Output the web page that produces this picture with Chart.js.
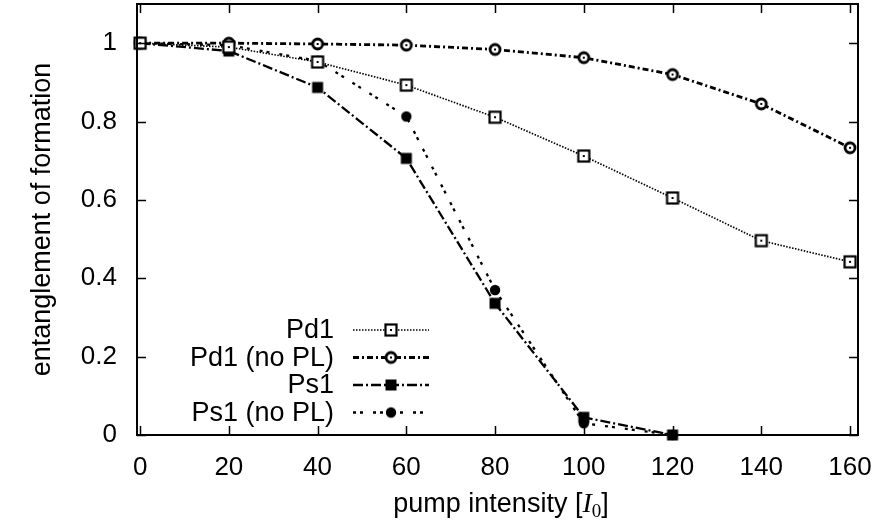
<!DOCTYPE html>
<html><head><meta charset="utf-8">
<script src="https://cdn.jsdelivr.net/npm/chart.js@4.4.1/dist/chart.umd.min.js"></script>
<style>html,body{margin:0;padding:0;background:#fff}#wrap{width:880px;height:525px;position:relative}</style>
</head><body><div id="wrap"><canvas id="c"></canvas></div>
<script>
// ---- data ----
const intensity = [0, 20, 40, 60, 80, 100, 120, 140, 160];
const pd1 = [1.0, 0.99, 0.952, 0.893, 0.811, 0.712, 0.605, 0.496, 0.442];
const pd1NoPL = [1.0, 1.0, 0.998, 0.995, 0.984, 0.963, 0.920, 0.845, 0.733];
const psIntensity = [0, 20, 40, 60, 80, 100, 120];
const ps1 = [1.0, 0.98, 0.887, 0.706, 0.336, 0.045, 0.0];
const ps1NoPL = [1.0, 0.995, 0.955, 0.813, 0.370, 0.030, 0.0];
const seriesNames = ['Pd1', 'Pd1 (no PL)', 'Ps1', 'Ps1 (no PL)'];
const xTicks = [0, 20, 40, 60, 80, 100, 120, 140, 160];
const yTicks = [0, 0.2, 0.4, 0.6, 0.8, 1];
const yTickLabels = ['0', '0.2', '0.4', '0.6', '0.8', '1'];

const FONT = '"Liberation Sans", Arial, Helvetica, sans-serif';
const TFONT = '"Liberation Sans Narrow", "Arial Narrow", "Liberation Sans", sans-serif';
const TFS = 26;   // tick font
const FS = 27;    // titles / legend font

function marker(kind) {
  const c = document.createElement('canvas');
  c.width = 16; c.height = 16;
  const g = c.getContext('2d');
  g.fillStyle = '#000'; g.strokeStyle = '#000';
  if (kind === 'openSquare') {
    g.fillStyle = '#fff'; g.fillRect(2.5, 2.5, 11, 11);
    g.lineWidth = 2.2; g.strokeRect(2.5, 2.5, 11, 11);
    g.fillStyle = '#000'; g.fillRect(7, 7, 2, 2);
  } else if (kind === 'openCircle') {
    g.fillStyle = '#fff'; g.beginPath(); g.arc(8, 8, 5.5, 0, Math.PI * 2); g.fill();
    g.lineWidth = 2.8; g.beginPath(); g.arc(8, 8, 5, 0, Math.PI * 2); g.stroke();
    g.fillStyle = '#000'; g.fillRect(7, 7, 2, 2);
  } else if (kind === 'filledSquare') {
    g.fillRect(2.5, 2.5, 11, 11);
  } else {
    g.beginPath(); g.arc(8, 8, 5.2, 0, Math.PI * 2); g.fill();
  }
  return c;
}

const styles = [
  { dash: [1.5, 1.5], width: 1.7, pt: marker('openSquare') },
  { dash: [6, 3, 2, 3], width: 2.8, pt: marker('openCircle') },
  { dash: [10, 3, 2, 3], width: 2.3, pt: marker('filledSquare') },
  { dash: [3, 4, 3, 10], width: 2.3, pt: marker('filledCircle') }
];

function pts(xs, ys) { return xs.map((x, i) => ({ x: x, y: ys[i] })); }
const seriesData = [pts(intensity, pd1), pts(intensity, pd1NoPL), pts(psIntensity, ps1), pts(psIntensity, ps1NoPL)];

const datasets = seriesData.map((d, i) => ({
  label: seriesNames[i],
  data: d,
  borderColor: '#000',
  backgroundColor: '#000',
  borderWidth: styles[i].width,
  borderDash: styles[i].dash,
  pointStyle: styles[i].pt,
  pointRadius: 5,
  tension: 0,
  fill: false,
  clip: false
}));

const framePlugin = {
  id: 'frame',
  afterDatasetsDraw(chart) {
    const ctx = chart.ctx, a = chart.chartArea;
    const xs = chart.scales.x, ys = chart.scales.y;
    ctx.save();
    ctx.strokeStyle = '#000';
    ctx.lineWidth = 1.5;
    ctx.setLineDash([]);
    const T = 9;
    ctx.beginPath();
    xTicks.forEach(v => {
      const p = Math.round(xs.getPixelForValue(v)) + 0.5;
      ctx.moveTo(p, a.bottom); ctx.lineTo(p, a.bottom - T);
      ctx.moveTo(p, a.top); ctx.lineTo(p, a.top + T);
    });
    yTicks.forEach(v => {
      const p = Math.round(ys.getPixelForValue(v)) + 0.5;
      ctx.moveTo(a.left, p); ctx.lineTo(a.left + T, p);
      ctx.moveTo(a.right, p); ctx.lineTo(a.right - T, p);
    });
    ctx.stroke();
    ctx.lineWidth = 2;
    ctx.strokeRect(a.left, a.top, a.right - a.left, a.bottom - a.top);
    ctx.restore();
  },
  afterDraw(chart) {
    const ctx = chart.ctx;
    ctx.save();
    // legend
    const rowY = [330, 357.5, 385, 412.5];
    chart.data.datasets.forEach((ds, i) => {
      const y = rowY[i];
      ctx.fillStyle = '#000';
      ctx.font = FS + 'px ' + FONT;
      ctx.textAlign = 'right';
      ctx.textBaseline = 'middle';
      ctx.fillText(ds.label, 334, y + 1);
      ctx.strokeStyle = '#000';
      ctx.lineWidth = ds.borderWidth;
      ctx.setLineDash(ds.borderDash);
      ctx.beginPath(); ctx.moveTo(353, y); ctx.lineTo(429, y); ctx.stroke();
      ctx.setLineDash([]);
      const img = ds.pointStyle;
      ctx.drawImage(img, 391 - img.width / 2, y - img.height / 2);
    });
    // x title with math
    const parts = [
      { t: 'pump intensity [', f: FS + 'px ' + FONT, dy: 0 },
      { t: 'I', f: 'italic ' + (FS + 1) + 'px "Liberation Serif", "DejaVu Serif", serif', dy: 0 },
      { t: '0', f: (FS - 8) + 'px "Liberation Serif", "DejaVu Serif", serif', dy: 5 },
      { t: ']', f: FS + 'px ' + FONT, dy: 0 }
    ];
    let total = 0;
    parts.forEach(p => { ctx.font = p.f; p.w = ctx.measureText(p.t).width; total += p.w; });
    let x = 501 - total / 2;
    ctx.textAlign = 'left';
    ctx.textBaseline = 'alphabetic';
    ctx.fillStyle = '#000';
    parts.forEach(p => { ctx.font = p.f; ctx.fillText(p.t, x, 512 + p.dy); x += p.w; });
    ctx.restore();
  }
};

function zeroPad(s) { s.paddingTop = 0; s.paddingBottom = 0; s.paddingLeft = 0; s.paddingRight = 0; }

new Chart(document.getElementById('c'), {
  type: 'line',
  data: { datasets: datasets },
  plugins: [framePlugin],
  options: {
    responsive: true,
    maintainAspectRatio: false,
    animation: false,
    layout: { autoPadding: false, padding: { top: 4, right: 22, left: 0, bottom: 0 } },
    plugins: { legend: { display: false }, tooltip: { enabled: false } },
    scales: {
      x: {
        type: 'linear', min: -0.7, max: 161.8,
        afterBuildTicks(s) { s.ticks = xTicks.map(v => ({ value: v })); },
        afterFit(s) { s.height = 90; zeroPad(s); },
        grid: { display: false, drawTicks: false },
        border: { display: false },
        ticks: { color: '#000', font: { family: TFONT, size: TFS }, padding: 17, maxRotation: 0, autoSkip: false,
          callback: v => String(v) }
      },
      y: {
        min: 0, max: 1.1,
        afterBuildTicks(s) { s.ticks = yTicks.map(v => ({ value: v })); },
        afterFit(s) { s.width = 137; zeroPad(s); },
        grid: { display: false, drawTicks: false },
        border: { display: false },
        ticks: { color: '#000', font: { family: TFONT, size: TFS }, padding: 20, autoSkip: false,
          callback: v => yTickLabels[yTicks.indexOf(v)] ?? '' },
        title: { display: true, text: 'entanglement of formation', color: '#000',
          font: { family: FONT, size: FS }, padding: { top: 26, bottom: 0 } }
      }
    }
  }
});
</script>
</body></html>
